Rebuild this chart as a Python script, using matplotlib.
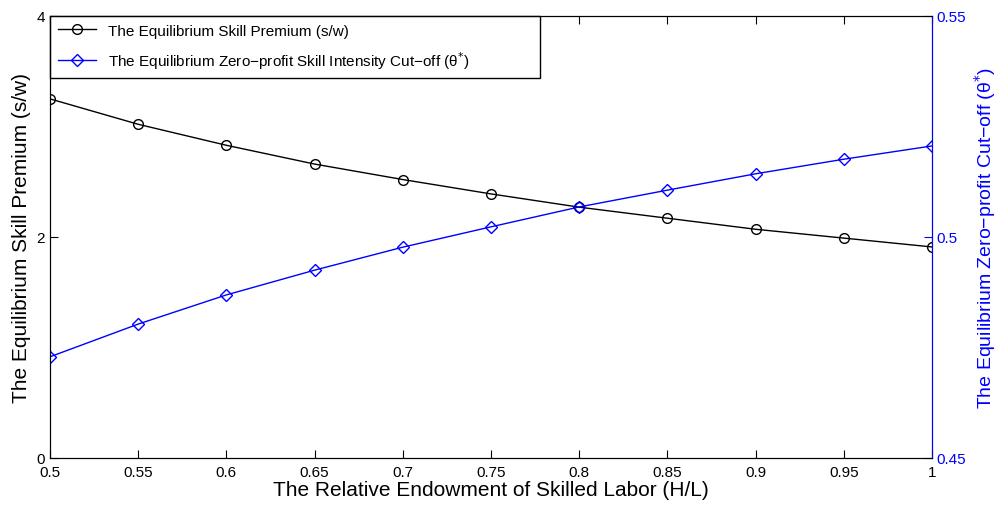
import numpy as np
import matplotlib
matplotlib.use("Agg")
import matplotlib.pyplot as plt

plt.rcParams['font.family'] = ['Liberation Sans', 'DejaVu Sans']

# relative endowment of skilled labor H/L
hl = [0.5, 0.55, 0.6, 0.65, 0.7, 0.75, 0.8, 0.85, 0.9, 0.95, 1.0]
# equilibrium skill premium s/w
premium = [3.25, 3.02, 2.83, 2.66, 2.52, 2.39, 2.27, 2.17, 2.07, 1.99, 1.91]
# equilibrium zero-profit skill intensity cut-off theta*
cutoff = [0.4729, 0.4803, 0.4869, 0.4925, 0.4977, 0.5023, 0.5068, 0.5106, 0.5143, 0.5176, 0.5206]

xticks = [0.5, 0.55, 0.6, 0.65, 0.7, 0.75, 0.8, 0.85, 0.9, 0.95, 1]
xticklabels = ['0.5', '0.55', '0.6', '0.65', '0.7', '0.75', '0.8', '0.85', '0.9', '0.95', '1']

fig = plt.figure(figsize=(9.98, 5.06), dpi=100)
ax = fig.add_axes([50/998, 1-459/506, 882/998, 442/506])
ax2 = ax.twinx()

l1, = ax.plot(hl, premium, 'k-', marker='o', mfc='none', ms=7, lw=1,
              label='The Equilibrium Skill Premium (s/w)')
l2, = ax2.plot(hl, cutoff, '-', color='#0000ff', marker='D', mfc='none', ms=6, lw=1,
               label='The Equilibrium Zero\u2212profit Skill Intensity Cut\u2212off (\u03b8$^{*}$)')

ax.set_xlim(0.5, 1)
ax.set_ylim(0, 4)
ax.set_yticks([0, 2, 4])
ax.set_xticks(xticks)
ax.set_xticklabels(xticklabels)
ax2.set_ylim(0.45, 0.55)
ax2.set_yticks([0.45, 0.5, 0.55])
ax2.set_yticklabels(['0.45', '0.5', '0.55'])

ax.tick_params(direction='in', length=6, labelsize=11, width=0.8, top=True)
ax.tick_params(axis='x', pad=5)
ax2.tick_params(direction='in', length=6, labelsize=11, colors='#0000ff', width=0.8)
ax2.spines['right'].set_color('#0000ff')

ax.set_xlabel('The Relative Endowment of Skilled Labor (H/L)', fontsize=15, labelpad=1)
ax.set_ylabel('The Equilibrium Skill Premium (s/w)', fontsize=15)
ax2.set_ylabel('The Equilibrium Zero\u2212profit Cut\u2212off (\u03b8$^{*}$)', fontsize=14,
               color='#0000ff', labelpad=4)

leg = ax.legend(handles=[l1, l2], loc='upper left', fontsize=11, fancybox=False,
                edgecolor='k', framealpha=1, borderaxespad=0, handlelength=2.5,
                labelspacing=0.75, borderpad=0.5,
                bbox_to_anchor=(0, 0.862, 0.556, 0.138), mode='expand')
leg.get_frame().set_linewidth(1)

plt.savefig("out.png", dpi=100)
